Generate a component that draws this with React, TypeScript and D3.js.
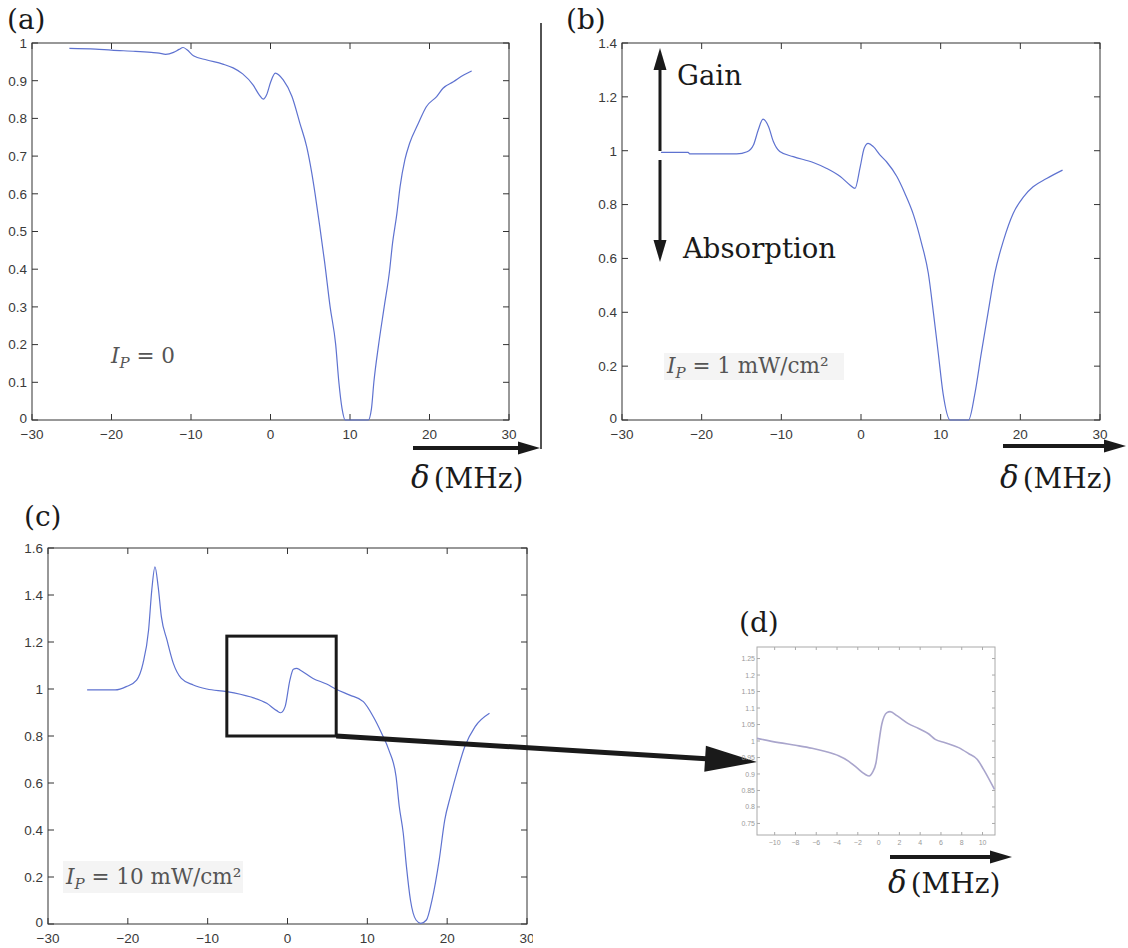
import React from "react";
import * as d3 from "d3";

// ---------- data ----------
const xA = [-25.3, -22, -20, -17, -15, -14, -13.2, -12.2, -11.5, -11, -10.5, -9.7, -8, -6, -4.7, -3.5, -2.2, -1.4, -0.9, -0.5, 0, 0.6, 1.6, 2.7, 3.7, 4.55, 5.2, 5.6, 6.2, 6.8, 7.5, 8.2, 8.6, 9.0, 9.4, 12.3, 12.7, 13.0, 13.6, 14.3, 15.0, 15.3, 15.9, 16.3, 16.9, 17.5, 18.6, 19.6, 20.9, 21.7, 23.0, 24.3, 25.3];
const yA = [0.986, 0.984, 0.981, 0.978, 0.975, 0.973, 0.970, 0.975, 0.983, 0.988, 0.982, 0.966, 0.955, 0.944, 0.934, 0.918, 0.889, 0.862, 0.851, 0.862, 0.895, 0.92, 0.902, 0.858, 0.787, 0.725, 0.654, 0.601, 0.513, 0.42, 0.30, 0.2, 0.1, 0.03, 0, 0, 0.03, 0.1, 0.2, 0.3, 0.4, 0.46, 0.548, 0.619, 0.69, 0.734, 0.787, 0.831, 0.858, 0.88, 0.897, 0.915, 0.926];

const xB = [-25.1, -21.7, -21.5, -15.6, -14.3, -13.5, -12.9, -12.3, -11.6, -11.0, -10.2, -8.5, -6.0, -4.3, -2.6, -1.4, -0.75, -0.1, 0.4, 0.9, 1.55, 2.4, 3.2, 4.5, 5.5, 6.6, 7.6, 8.45, 9.1, 9.7, 10.3, 11.2, 13.5, 14.3, 15.1, 16.0, 16.8, 17.9, 19.1, 20.4, 21.6, 23.3, 25.3];
const yB = [0.994, 0.994, 0.988, 0.988, 0.996, 1.021, 1.077, 1.117, 1.089, 1.034, 0.997, 0.978, 0.956, 0.934, 0.904, 0.873, 0.860, 0.94, 1.009, 1.027, 1.015, 0.984, 0.959, 0.904, 0.842, 0.761, 0.656, 0.545, 0.396, 0.248, 0.099, 0, 0, 0.099, 0.248, 0.408, 0.545, 0.668, 0.767, 0.829, 0.866, 0.897, 0.928];

const xC = [-25.1, -21.6, -20.2, -18.9, -18.1, -17.4, -17.0, -16.6, -16.2, -15.8, -15.1, -14.3, -13.3, -11.8, -10.1, -7.6, -4.7, -2.6, -1.35, -0.85, -0.3, 0.3, 0.73, 1.15, 1.57, 3.2, 4.9, 6.1, 7.8, 9.5, 10.75, 11.8, 12.7, 13.6, 14.0, 14.5, 14.9, 15.4, 16.1, 16.7, 17.4, 18.1, 19.0, 19.7, 20.4, 21.3, 22.2, 23.5, 25.3];
const yC = [0.996, 0.996, 1.01, 1.038, 1.109, 1.251, 1.421, 1.52, 1.435, 1.308, 1.209, 1.109, 1.045, 1.017, 1.0, 0.989, 0.967, 0.939, 0.908, 0.899, 0.925, 1.038, 1.084, 1.088, 1.081, 1.045, 1.021, 0.999, 0.974, 0.946, 0.882, 0.811, 0.74, 0.627, 0.5, 0.386, 0.244, 0.102, 0.017, 0.003, 0.017, 0.102, 0.272, 0.443, 0.542, 0.655, 0.754, 0.84, 0.897];

const xD = [-11.7, -9.6, -8.0, -6.4, -5.1, -3.85, -2.9, -2.1, -1.3, -0.9, -0.6, -0.25, 0, 0.3, 0.8, 1.1, 1.8, 2.9, 3.85, 4.8, 5.45, 6.4, 7.7, 8.65, 9.5, 10.1, 11.15];
const yD = [1.008, 0.995, 0.987, 0.978, 0.968, 0.955, 0.939, 0.919, 0.899, 0.894, 0.904, 0.934, 0.99, 1.05, 1.086, 1.089, 1.076, 1.052, 1.038, 1.022, 1.005, 0.995, 0.98, 0.962, 0.944, 0.914, 0.853];

const xTicksMain = [-30, -20, -10, 0, 10, 20, 30];
const yTicksA = [0, 0.1, 0.2, 0.3, 0.4, 0.5, 0.6, 0.7, 0.8, 0.9, 1];
const yTicksB = [0, 0.2, 0.4, 0.6, 0.8, 1, 1.2, 1.4];
const yTicksC = [0, 0.2, 0.4, 0.6, 0.8, 1, 1.2, 1.4, 1.6];
const xTicksD = [-10, -8, -6, -4, -2, 0, 2, 4, 6, 8, 10];
const yTicksD = [0.75, 0.8, 0.85, 0.9, 0.95, 1, 1.05, 1.1, 1.15, 1.2, 1.25];
const zoomBoxX = [-7.6, 6.1];
const zoomBoxY = [0.8, 1.225];

const fmt = (v: number) => String(+v.toFixed(2)).replace("-", "\u2212");

type PanelProps = {
  id: string;
  px: [number, number];
  py: [number, number];
  xDomain: [number, number];
  yDomain: [number, number];
  xs: number[];
  ys: number[];
  xTicks: number[];
  yTicks: number[];
  fontSize?: number;
  tickLen?: number;
  axisColor?: string;
  labelColor?: string;
  lineColor?: string;
  lineWidth?: number;
  labelGapX?: number;
  labelGapY?: number;
  clipRight?: number;
};

function Panel(p: PanelProps) {
  const x = d3.scaleLinear().domain(p.xDomain).range(p.px);
  const y = d3.scaleLinear().domain(p.yDomain).range([p.py[1], p.py[0]]);
  const fs = p.fontSize ?? 13.5;
  const tl = p.tickLen ?? 6;
  const ac = p.axisColor ?? "#333";
  const lc = p.labelColor ?? "#3a3a3a";
  const line = d3
    .line<number>()
    .x((_, i) => x(p.xs[i]))
    .y((_, i) => y(p.ys[i]))
    .curve(d3.curveMonotoneX);
  const [L, R] = p.px;
  const [T, B] = p.py;
  const gx = p.labelGapX ?? 19;
  const gy = p.labelGapY ?? 5;
  return (
    <g clipPath={p.clipRight ? `url(#clip-${p.id})` : undefined}>
      {p.clipRight ? (
        <defs>
          <clipPath id={`clip-${p.id}`}>
            <rect x={0} y={0} width={p.clipRight} height={948} />
          </clipPath>
        </defs>
      ) : null}
      <rect x={L} y={T} width={R - L} height={B - T} fill="none" stroke={ac} strokeWidth={1} />
      {p.xTicks.map((t) => (
        <g key={"xt" + t}>
          <line x1={x(t)} x2={x(t)} y1={B} y2={B - tl} stroke={ac} />
          <line x1={x(t)} x2={x(t)} y1={T} y2={T + tl} stroke={ac} />
          <text x={x(t)} y={B + gx} textAnchor="middle" fontSize={fs} fill={lc} fontFamily="Liberation Sans, Arial, sans-serif">
            {fmt(t)}
          </text>
        </g>
      ))}
      {p.yTicks.map((t) => (
        <g key={"yt" + t}>
          <line x1={L} x2={L + tl} y1={y(t)} y2={y(t)} stroke={ac} />
          <line x1={R} x2={R - tl} y1={y(t)} y2={y(t)} stroke={ac} />
          <text x={L - gy} y={y(t) - (t === p.yDomain[0] ? 1.5 : 0)} dy="0.36em" textAnchor="end" fontSize={fs} fill={lc} fontFamily="Liberation Sans, Arial, sans-serif">
            {fmt(t)}
          </text>
        </g>
      ))}
      <path d={line(p.xs) ?? ""} fill="none" stroke={p.lineColor ?? "#5e72d0"} strokeWidth={p.lineWidth ?? 1.2} strokeLinejoin="round" />
    </g>
  );
}

function Arrow({ x1, y1, x2, y2, w, hl, hw }: { x1: number; y1: number; x2: number; y2: number; w: number; hl: number; hw: number }) {
  const a = Math.atan2(y2 - y1, x2 - x1);
  const bx = x2 - hl * Math.cos(a);
  const by = y2 - hl * Math.sin(a);
  const nx = -Math.sin(a);
  const ny = Math.cos(a);
  const pts = `${x2},${y2} ${bx + nx * hw},${by + ny * hw} ${bx - nx * hw},${by - ny * hw}`;
  return (
    <g>
      <line x1={x1} y1={y1} x2={bx + Math.cos(a)} y2={by + Math.sin(a)} stroke="#1a1a1a" strokeWidth={w} />
      <polygon points={pts} fill="#1a1a1a" />
    </g>
  );
}

const serif = "'DejaVu Serif', serif";

function DeltaLabel({ x, y }: { x: number; y: number }) {
  return (
    <text x={x} y={y} fontFamily={serif} fontSize={28} fill="#1a1a1a">
      <tspan fontStyle="italic" fontSize={31}>δ</tspan>
      <tspan dx={4}>(MHz)</tspan>
    </text>
  );
}

function IpLabel({ x, y, rest, fs }: { x: number; y: number; rest: string; fs: number }) {
  return (
    <text x={x} y={y} fontFamily={serif} fontSize={fs} fill="#555">
      <tspan fontStyle="italic">I</tspan>
      <tspan fontStyle="italic" fontSize={fs * 0.7} dy={fs * 0.22}>P</tspan>
      <tspan dy={-fs * 0.22}>{" = " + rest}</tspan>
    </text>
  );
}

export default function App() {
  const xCs = d3.scaleLinear().domain([-30, 30]).range([48, 527]);
  const yCs = d3.scaleLinear().domain([0, 1.6]).range([924, 548]);
  const bx0 = xCs(zoomBoxX[0]);
  const bx1 = xCs(zoomBoxX[1]);
  const by0 = yCs(zoomBoxY[1]);
  const by1 = yCs(zoomBoxY[0]);
  return (
    <svg width={1128} height={948} style={{ position: "absolute", left: 0, top: 0, background: "#fff" }}>
      <rect x={0} y={0} width={1128} height={948} fill="#fff" />
      {/* (a) */}
      <text x={7} y={29} fontFamily={serif} fontSize={28} fill="#1a1a1a">(a)</text>
      <Panel id="a" px={[32, 509]} py={[43, 420]} xDomain={[-30, 30]} yDomain={[0, 1]} xs={xA} ys={yA} xTicks={xTicksMain} yTicks={yTicksA} />
      <IpLabel x={111} y={363} rest="0" fs={21.5} />
      <line x1={541} x2={541} y1={23} y2={449} stroke="#1a1a1a" strokeWidth={1.5} />
      <Arrow x1={413} y1={448} x2={540} y2={448} w={4} hl={22} hw={6.5} />
      <DeltaLabel x={411} y={488} />

      {/* (b) */}
      <text x={566} y={29} fontFamily={serif} fontSize={28} fill="#1a1a1a">(b)</text>
      <Panel id="b" px={[622, 1100]} py={[43, 420]} xDomain={[-30, 30]} yDomain={[0, 1.4]} xs={xB} ys={yB} xTicks={xTicksMain} yTicks={yTicksB} />
      <Arrow x1={660} y1={151} x2={660} y2={48} w={3} hl={22} hw={6.5} />
      <Arrow x1={660} y1={160} x2={660} y2={262} w={3} hl={22} hw={6.5} />
      <text x={677} y={85} fontFamily={serif} fontSize={27.5} fill="#1a1a1a">Gain</text>
      <text x={683} y={258} fontFamily={serif} fontSize={27.5} fill="#1a1a1a">Absorption</text>
      <rect x={664} y={353} width={180} height={27} fill="#f4f4f4" />
      <IpLabel x={667} y={373} rest="1 mW/cm²" fs={21.5} />
      <Arrow x1={1003} y1={446} x2={1126} y2={446} w={4} hl={22} hw={6.5} />
      <DeltaLabel x={1000} y={488} />

      {/* (c) */}
      <text x={24} y={526} fontFamily={serif} fontSize={28} fill="#1a1a1a">(c)</text>
      <Panel id="c" px={[48, 527]} py={[548, 924]} xDomain={[-30, 30]} yDomain={[0, 1.6]} xs={xC} ys={yC} xTicks={xTicksMain} yTicks={yTicksC} clipRight={533} />
      <rect x={63} y={861} width={180} height={32} fill="#f4f4f4" />
      <IpLabel x={66} y={884} rest="10 mW/cm²" fs={21.5} />
      <rect x={bx0} y={by0} width={bx1 - bx0} height={by1 - by0} fill="none" stroke="#1a1a1a" strokeWidth={3} />
      <Arrow x1={bx1} y1={by1} x2={757} y2={762} w={5} hl={52} hw={13} />

      {/* (d) */}
      <text x={739} y={632} fontFamily={serif} fontSize={28} fill="#1a1a1a">(d)</text>
      <Panel id="d" px={[757, 995]} py={[647, 835]} xDomain={[-11.7, 11.2]} yDomain={[0.715, 1.285]} xs={xD} ys={yD} xTicks={xTicksD} yTicks={yTicksD} fontSize={7} tickLen={3} axisColor="#aaa" labelColor="#999" lineColor="#a9a5cc" lineWidth={1.6} labelGapX={10} labelGapY={2} />
      <Arrow x1={890} y1={857} x2={1012} y2={857} w={4} hl={22} hw={6.5} />
      <DeltaLabel x={888} y={893} />
    </svg>
  );
}
